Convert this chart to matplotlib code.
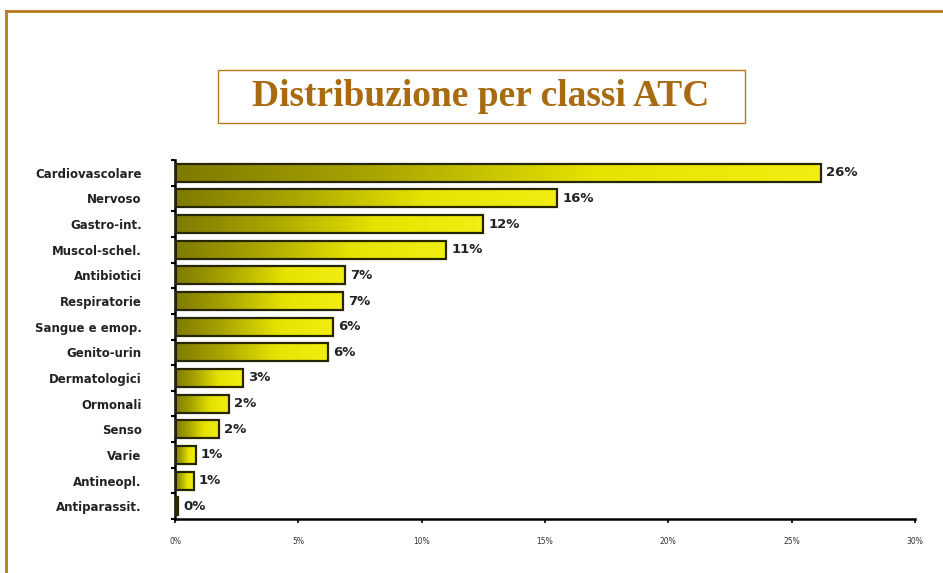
import numpy as np
import matplotlib
matplotlib.use('Agg')
import matplotlib.pyplot as plt
from matplotlib.colors import LinearSegmentedColormap
from matplotlib.patches import Rectangle
from matplotlib.lines import Line2D

classi = ['Cardiovascolare', 'Nervoso', 'Gastro-int.', 'Muscol-schel.', 'Antibiotici',
          'Respiratorie', 'Sangue e emop.', 'Genito-urin', 'Dermatologici', 'Ormonali',
          'Senso', 'Varie', 'Antineopl.', 'Antiparassit.']
valori = [26.2, 15.5, 12.5, 11.0, 6.9, 6.8, 6.4, 6.2, 2.75, 2.2, 1.8, 0.85, 0.75, 0.12]
etichette = ['26%', '16%', '12%', '11%', '7%', '7%', '6%', '6%', '3%', '2%', '2%', '1%', '1%', '0%']
xticks = [0, 5, 10, 15, 20, 25, 30]
xlabels = ['0%', '5%', '10%', '15%', '20%', '25%', '30%']

oro = '#b8791a'
cmap = LinearSegmentedColormap.from_list('giallo', [(0, '#7e7a00'), (0.3, '#a8a400'),
                                                    (0.65, '#e6e200'), (1, '#f2ee12')])

fig = plt.figure(figsize=(9.43, 5.73), dpi=100)

# cornice
fig.add_artist(Line2D([6/943, 1], [1 - 11/573] * 2, color=oro, lw=2))
fig.add_artist(Line2D([6/943] * 2, [0, 1 - 11/573], color=oro, lw=2))

# titolo
fig.add_artist(Rectangle((218/943, 1 - 123/573), 527/943, 53/573, fill=False, ec=oro, lw=1))
fig.text(481/943, 1 - 97/573, 'Distribuzione per classi ATC', ha='center', va='center',
         family='Liberation Serif', weight='bold', size=27, color='#a86b12')

ax = fig.add_axes([175/943, 54/573, 740/943, 359/573])
grad = np.linspace(0, 1, 256).reshape(1, -1)
h = 0.7
for i, v in enumerate(valori):
    ax.imshow(grad, cmap=cmap, aspect='auto', extent=[0, v, i + h/2, i - h/2], zorder=2)
    ax.add_patch(Rectangle((0, i - h/2), v, h, fill=False, ec='#262600', lw=1.6, zorder=3))
    ax.text(v + 0.2, i, etichette[i], va='center', ha='left', fontsize=9.5,
            weight='bold', color='#222222')

ax.set_xlim(0, 30)
ax.set_ylim(13.45, -0.45)
ax.set_yticks(range(len(classi)))
ax.set_yticklabels(classi, fontsize=8.5, weight='bold', color='#222222')
ax.tick_params(axis='y', length=0, pad=24)
ax.set_yticks(np.arange(-0.5, 13.6, 1), minor=True)
ax.tick_params(axis='y', which='minor', length=3, width=1.5)
ax.set_xticks(xticks)
ax.set_xticklabels(xlabels, fontsize=5.5, color='#333333')
ax.tick_params(axis='x', length=3, width=1.2, pad=10)
for s in ['top', 'right']:
    ax.spines[s].set_visible(False)
ax.spines['left'].set_linewidth(1.8)
ax.spines['bottom'].set_linewidth(1.8)

fig.savefig('out.png', dpi=100)
